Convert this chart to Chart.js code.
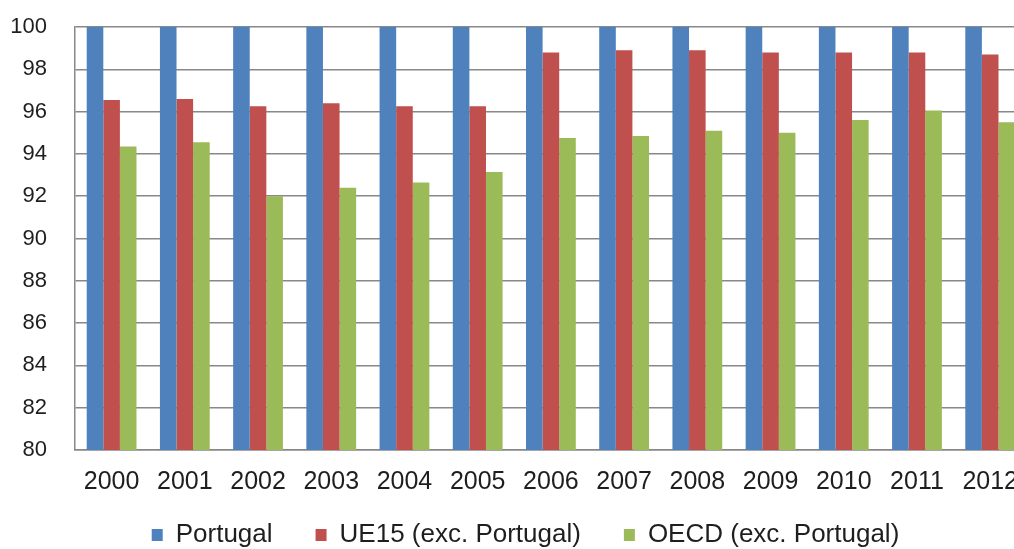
<!DOCTYPE html>
<html>
<head>
<meta charset="utf-8">
<script src="https://cdn.jsdelivr.net/npm/chart.js@4"></script>
<style>
    html, body { margin: 0; padding: 0; background: #fff; overflow: hidden; }
    #wrap { width: 1035px; height: 549px; }
</style>
</head>
<body>
<div id="wrap"><canvas id="chart"></canvas></div>
<script>
    // Data
    const years = ['2000', '2001', '2002', '2003', '2004', '2005', '2006',
                   '2007', '2008', '2009', '2010', '2011', '2012'];
    const portugal = [100, 100, 100, 100, 100, 100, 100, 100, 100, 100, 100, 100, 100];
    const ue15 = [96.55, 96.6, 96.25, 96.4, 96.25, 96.25, 98.8, 98.9, 98.9, 98.8, 98.8, 98.8, 98.7];
    const oecd = [94.35, 94.55, 92.0, 92.4, 92.65, 93.15, 94.75, 94.85, 95.1, 95.0, 95.6, 96.05, 95.5];
    const yTicks = [80, 82, 84, 86, 88, 90, 92, 94, 96, 98, 100];

    const textColor = '#1e1e1e';
    const gridColor = '#888888';
    const fontFamily = 'Liberation Sans, Arial, sans-serif';

    // move the legend row up towards the axis labels and a bit to the right
    const legendShift = {
        id: 'legendShift',
        afterLayout(chart) {
            const lg = chart.legend;
            lg.top -= 21;
            lg.bottom -= 21;
            lg.left += 8;
            lg.right += 8;
        }
    };

    new Chart(document.getElementById('chart'), {
        type: 'bar',
        data: {
            labels: years,
            datasets: [
                { label: 'Portugal', data: portugal, backgroundColor: '#4f81bd' },
                { label: 'UE15 (exc. Portugal)', data: ue15, backgroundColor: '#c0504d' },
                { label: 'OECD (exc. Portugal)', data: oecd, backgroundColor: '#9bbb59' }
            ]
        },
        plugins: [legendShift],
        options: {
            responsive: true,
            maintainAspectRatio: false,
            animation: false,
            layout: { padding: { top: 27, right: 0, left: 0, bottom: -30 } },
            datasets: {
                bar: { barPercentage: 1, categoryPercentage: 0.68 }
            },
            scales: {
                x: {
                    afterFit: scale => { scale.height = 50; },
                    grid: { display: false, drawTicks: false },
                    border: { color: gridColor, width: 1.5 },
                    ticks: {
                        color: textColor,
                        font: { family: fontFamily, size: 25 },
                        padding: 17,
                        maxRotation: 0,
                        autoSkip: false
                    }
                },
                y: {
                    min: 80,
                    max: 100,
                    afterBuildTicks: scale => { scale.ticks = yTicks.map(v => ({ value: v })); },
                    afterFit: scale => {
                        scale.width = 75;
                        scale.paddingTop = 0;
                        scale.paddingBottom = 0;
                    },
                    grid: { color: gridColor, lineWidth: 1.5, drawTicks: false },
                    border: { color: gridColor, width: 1.5 },
                    ticks: {
                        color: textColor,
                        font: { family: fontFamily, size: 22 },
                        padding: 28
                    }
                }
            },
            plugins: {
                legend: {
                    position: 'bottom',
                    labels: {
                        color: textColor,
                        font: { family: fontFamily, size: 26 },
                        boxWidth: 11,
                        boxHeight: 12,
                        padding: 43
                    }
                },
                tooltip: { enabled: false }
            }
        }
    });
</script>
</body>
</html>
